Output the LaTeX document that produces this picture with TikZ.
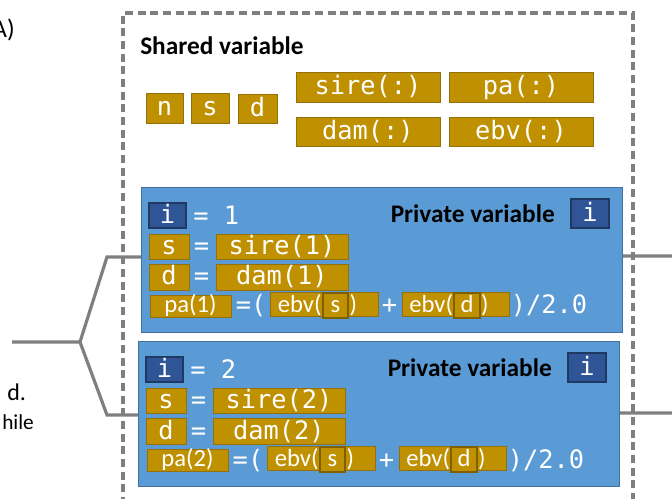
\documentclass[tikz,border=0pt]{standalone}
\usepackage{fontspec}
\setmainfont{Carlito}
\newfontfamily\codefont{DejaVu Sans Mono}
\usetikzlibrary{positioning}
\definecolor{gold}{HTML}{BF9000}
\definecolor{goldline}{HTML}{94700A}
\definecolor{golddark}{HTML}{7F6000}
\definecolor{blockfill}{HTML}{5B9BD5}
\definecolor{blockline}{HTML}{41719C}
\definecolor{ifill}{HTML}{2F5597}
\definecolor{iline}{HTML}{203864}
\definecolor{wiregray}{HTML}{7F7F7F}
\newcommand\codesz{\codefont\fontsize{19}{22}\selectfont}
\newcommand\calsz{\fontsize{18.5}{21}\selectfont}
\newcommand\headsz{\bfseries\fontsize{19}{22}\selectfont}
\tikzset{
 code/.style={text=white,font=\codesz,inner sep=0pt,text height=15pt,text depth=3pt},
 cal/.style={text=white,font=\calsz,inner sep=0pt,text height=13pt,text depth=3pt},
 gvar/.style 2 args={code,fill=gold,draw=goldline,line width=.6pt,minimum width=#1*.75pt,minimum height=#2*.75pt},
 ivar/.style 2 args={code,fill=ifill,draw=iline,line width=.8pt,minimum width=#1*.75pt,minimum height=#2*.75pt},
 inbox/.style={cal,fill=gold,draw=golddark,line width=1.6pt,minimum width=19pt,minimum height=19pt},
 block/.style={fill=blockfill,draw=blockline,line width=.6pt,inner sep=0pt,anchor=north west},
 wire/.style={draw=wiregray,line width=2.4pt},
}
\begin{document}
\begin{tikzpicture}[x=.75pt,y=-.75pt]
\useasboundingbox (0,0) rectangle (672,499);
\node[font=\fontsize{19}{22}\selectfont,anchor=base east,inner sep=0pt] (capA) at (15,38) {A)};
\node[font=\fontsize{18}{21}\selectfont,anchor=base west,inner sep=0pt] (capd) at (7,401) {d.};
\node[font=\fontsize{16}{19}\selectfont,anchor=base west,inner sep=0pt] (caph) at (2,429) {hile};
\node[font=\headsz,anchor=base west,inner sep=0pt] (shared) at (140,55) {Shared variable};
\foreach\n/\v/\x/\y/\w/\h in{sn/n/164.5/108/37/30,ss/s/210/108/38/30,sd/d/257.5/108.5/39/29,ssire/sire(:)/368/87/144/30,spa/pa(:)/521/87/144/30,sdam/dam(:)/368/131.5/144/29,sebv/ebv(:)/521/131.5/144/29}{\node[gvar={\w}{\h}] (\n) at (\x,\y) {\v};}
\foreach\k/\ox/\oy in{1/141/187,2/138/341}{
\begin{scope}[shift={(\ox,\oy)}]
\node[block,minimum width=481*.75pt,minimum height=145*.75pt] (blk\k) at (0,0) {};
\node[ivar={37}{25}] (i\k) at (26.5,28.5) {i};
\node[code,anchor=west] (n\k) at (52,29.5) {= \k};
\node[gvar={40}{25}] (s\k) at (28,59.5) {s};
\node[code] (eqs\k) at (60.5,59.5) {=};
\node[gvar={132}{25}] (sire\k) at (141,59.5) {sire(\k)\hspace{10pt}};
\node[gvar={40}{26}] (d\k) at (28,90) {d};
\node[code] (eqd\k) at (60.5,90) {=};
\node[gvar={132}{26}] (dam\k) at (141,90) {dam(\k)\hspace{10pt}};
\node[gvar={81}{22},cal] (pa\k) at (49.5,119) {pa(\k)};
\node[code] (op\k) at (110,119) {=(};
\node[gvar={108}{23}] (es\k) at (183,117.5) {};
\node[inbox] (is\k) at (194.5,118.5) {s};
\node[cal,left=0pt of is\k] (ets\k) {ebv(};
\node[cal,right=0pt of is\k] (cts\k) {)};
\node[code] (plus\k) at (248.5,119) {+};
\node[gvar={107}{23}] (ed\k) at (314.5,117.5) {};
\node[inbox] (id\k) at (326,118.5) {d};
\node[cal,left=0pt of id\k] (etd\k) {ebv(};
\node[cal,right=0pt of id\k] (ctd\k) {)};
\node[code] (cl\k) at (408,119) {)/2.0};
\node[font=\headsz,anchor=base east,inner sep=0pt] (pv\k) at (414,36) {Private variable};
\node[ivar={38}{29}] (pi\k) at (449,26.5) {i};
\end{scope}}
\coordinate (a) at (12,342);\coordinate (f) at (80,342);
\coordinate (u) at (107,257);\coordinate (l) at (107,415);
\coordinate (ou) at (672,256);\coordinate (ol) at (672,413);
\draw[wire] (a)--(f)--(u)--(u-|blk1.west) (f)--(l)--(l-|blk2.west) (blk1.east|-ou)--(ou) (blk2.east|-ol)--(ol);
\draw[wire,dash pattern=on 6pt off 3.5pt] (123,505)--(123,13)--(633,13)--(633,505);
\end{tikzpicture}
\end{document}
